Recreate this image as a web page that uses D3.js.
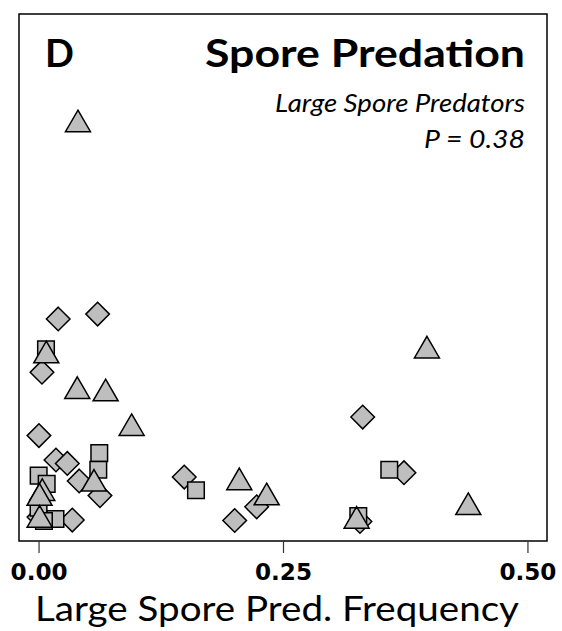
<!DOCTYPE html>
<html>
<head>
<meta charset="utf-8">
<script src="https://cdn.jsdelivr.net/npm/d3@7"></script>
<style>
  html, body { margin: 0; padding: 0; background: #fff; }
  svg { display: block; }
</style>
</head>
<body>
<svg id="chart" width="562" height="631"></svg>
<script>
// ---- data (x = large spore predator frequency, y = spore predation, arbitrary 0-1 units) ----
const xTicks = [0, 0.25, 0.5];
const panelLabel = "D";
const titleText = "Spore Predation";
const subtitleText = "Large Spore Predators";
const pText = "P = 0.38";
const xLabel = "Large Spore Pred. Frequency";

const diamondX = [0.0201, 0.0604, 0.0035, 0.0004, 0.0178, 0.0294, 0.0416, 0.0628, 0.0345, 0.0004, 0.1490, 0.2006, 0.2231, 0.3315, 0.3737, 0.3287];
const diamondY = [0.415, 0.425, 0.306, 0.176, 0.126, 0.119, 0.083, 0.053, 0.003, 0.009, 0.091, 0.002, 0.030, 0.214, 0.100, 0.000];

const squareX = [0.0076, 0.0621, 0.0611, 0.0001, 0.0083, 0.0000, 0.0173, 0.1610, 0.3587, 0.3270, 0.0055];
const squareY = [0.353, 0.140, 0.106, 0.094, 0.077, 0.028, 0.005, 0.064, 0.106, 0.011, 0.001];

const triangleX = [0.0403, 0.0079, 0.0396, 0.0686, 0.0952, 0.0567, 0.0038, 0.0010, 0.0011, 0.2053, 0.2333, 0.3253, 0.3972, 0.4395];
const triangleY = [0.8135, 0.340, 0.267, 0.262, 0.191, 0.077, 0.058, 0.048, 0.003, 0.080, 0.049, 0.001, 0.350, 0.029];

// ---- layout ----
const svg = d3.select("#chart");
const box = { left: 19, right: 547, top: 14, bottom: 541 };
const x = d3.scaleLinear().domain([-0.02, 0.52]).range([box.left, box.right]);
const y = d3.scaleLinear().domain([-0.04, 1.04]).range([box.bottom, box.top]);

const fill = "#BEBEBE";
const stroke = "#000";

// box
svg.append("rect")
  .attr("x", box.left).attr("y", box.top)
  .attr("width", box.right - box.left).attr("height", box.bottom - box.top)
  .attr("fill", "none").attr("stroke", "#000").attr("stroke-width", 1.5);

// axis
const axis = d3.axisBottom(x).tickValues(xTicks).tickFormat(d3.format(".2f")).tickSize(12).tickSizeOuter(0);
const gAxis = svg.append("g").attr("transform", `translate(0,${box.bottom})`).call(axis);
gAxis.select(".domain").remove();
gAxis.selectAll(".tick line").attr("stroke", "#333").attr("stroke-width", 1.2);
gAxis.selectAll(".tick text")
  .attr("y", 0).attr("dy", 0)
  .attr("transform", "translate(0,39)")
  .attr("font-family", "'DejaVu Sans', sans-serif")
  .attr("font-weight", "bold")
  .attr("font-size", 23.5)
  .attr("textLength", 57)
  .attr("lengthAdjust", "spacingAndGlyphs")
  .attr("fill", "#000");

// points
const gPts = svg.append("g");
const sq = 8.3, dm = 11.8, th = 12.5;

gPts.selectAll("path.diamond")
  .data(d3.zip(diamondX, diamondY))
  .join("path").attr("class", "diamond")
  .attr("d", d => {
    const cx = x(d[0]), cy = y(d[1]);
    return `M${cx},${cy - dm}L${cx + dm},${cy}L${cx},${cy + dm}L${cx - dm},${cy}Z`;
  })
  .attr("fill", fill).attr("stroke", stroke).attr("stroke-width", 1.5).attr("stroke-linejoin", "miter");

gPts.selectAll("path.square")
  .data(d3.zip(squareX, squareY))
  .join("path").attr("class", "square")
  .attr("d", d => {
    const cx = x(d[0]), cy = y(d[1]);
    return `M${cx - sq},${cy - sq}H${cx + sq}V${cy + sq}H${cx - sq}Z`;
  })
  .attr("fill", fill).attr("stroke", stroke).attr("stroke-width", 1.5);

gPts.selectAll("path.triangle")
  .data(d3.zip(triangleX, triangleY))
  .join("path").attr("class", "triangle")
  .attr("d", d => {
    const cx = x(d[0]), cy = y(d[1]);
    return `M${cx},${cy - 14.4}L${cx + th},${cy + 7.2}L${cx - th},${cy + 7.2}Z`;
  })
  .attr("fill", fill).attr("stroke", stroke).attr("stroke-width", 1.5).attr("stroke-linejoin", "miter");

// texts
const font = "Lato, 'Open Sans', sans-serif";
svg.append("text").attr("x", 45).attr("y", 67)
  .attr("font-family", font).attr("font-weight", "bold")
  .attr("font-size", 38).text(panelLabel);

svg.append("text").attr("x", 525).attr("y", 67).attr("text-anchor", "end")
  .attr("font-family", font).attr("font-weight", "bold")
  .attr("font-size", 38).attr("textLength", 320).attr("lengthAdjust", "spacingAndGlyphs")
  .text(titleText);

svg.append("text").attr("x", 525).attr("y", 112).attr("text-anchor", "end")
  .attr("font-family", font).attr("font-style", "italic")
  .attr("font-size", 26).attr("textLength", 250).attr("lengthAdjust", "spacingAndGlyphs")
  .text(subtitleText);

svg.append("text").attr("x", 525).attr("y", 148).attr("text-anchor", "end")
  .attr("font-family", font).attr("font-style", "italic")
  .attr("font-size", 26).attr("textLength", 101).attr("lengthAdjust", "spacingAndGlyphs")
  .text(pText);

svg.append("text").attr("x", 277).attr("y", 621).attr("text-anchor", "middle")
  .attr("font-family", font)
  .attr("font-size", 35).attr("textLength", 484).attr("lengthAdjust", "spacingAndGlyphs")
  .text(xLabel);
</script>
</body>
</html>
